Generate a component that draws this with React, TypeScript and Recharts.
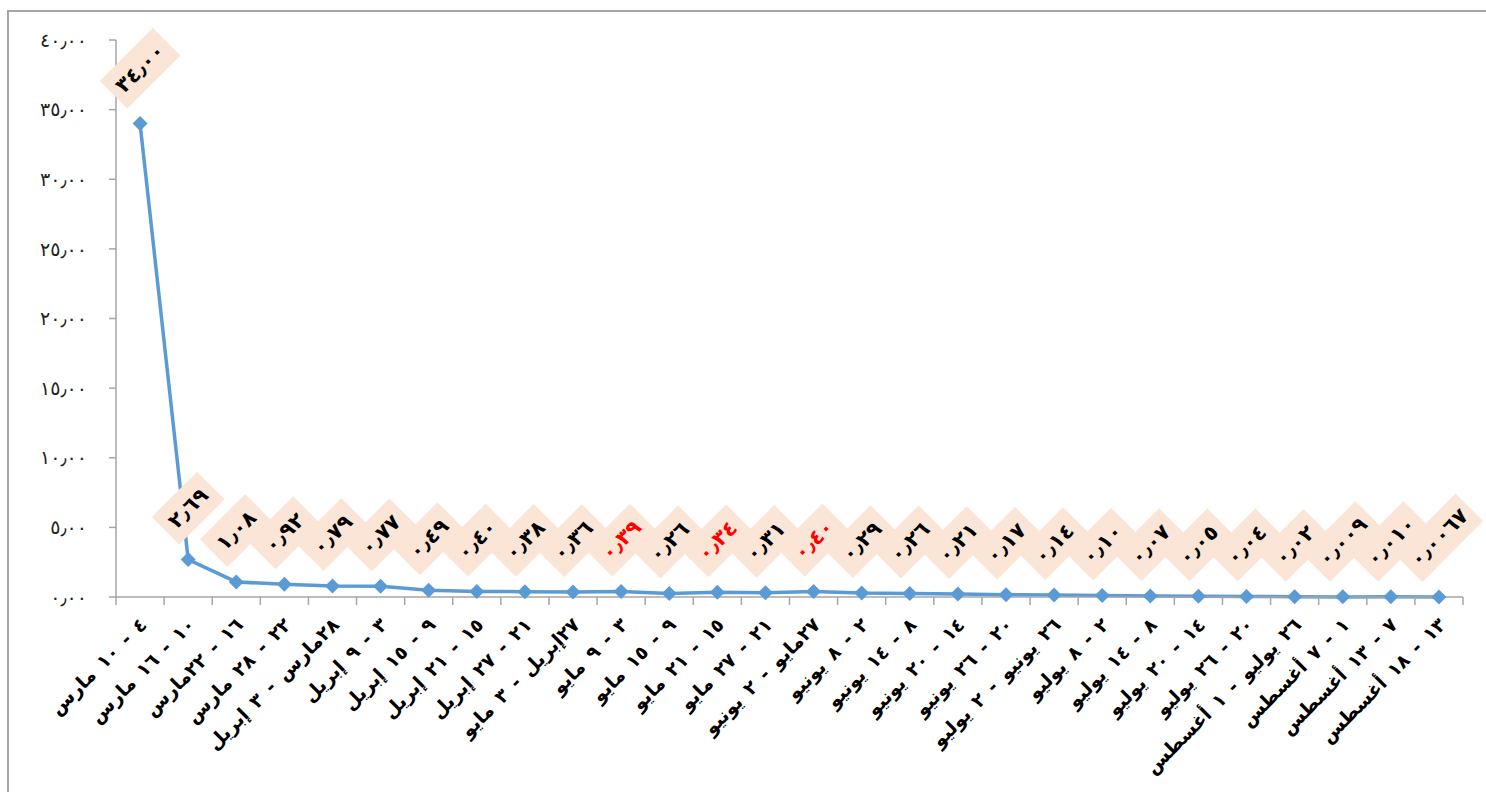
import { LineChart, Line, XAxis, YAxis, LabelList } from "recharts";

// weekly periods (Arabic labels as in the source sheet)
const weeks = [
  "٤ - ١٠ مارس",
  "١٠ - ١٦ مارس",
  "١٦ - ٢٢مارس",
  "٢٢ - ٢٨ مارس",
  "٢٨مارس - ٣ إبريل",
  "٣ - ٩ إبريل",
  "٩ - ١٥ إبريل",
  "١٥ - ٢١ إبريل",
  "٢١ - ٢٧ إبريل",
  "٢٧إبريل - ٣ مايو",
  "٣ - ٩ مايو",
  "٩ - ١٥ مايو",
  "١٥ - ٢١ مايو",
  "٢١ - ٢٧ مايو",
  "٢٧مايو - ٢ يونيو",
  "٢ - ٨ يونيو",
  "٨ - ١٤ يونيو",
  "١٤ - ٢٠ يونيو",
  "٢٠ - ٢٦ يونيو",
  "٢٦ يونيو - ٢ يوليو",
  "٢ - ٨ يوليو",
  "٨ - ١٤ يوليو",
  "١٤ - ٢٠ يوليو",
  "٢٠ - ٢٦ يوليو",
  "٢٦ يوليو - ١ أغسطس",
  "١ - ٧ أغسطس",
  "٧ - ١٣ أغسطس",
  "١٣ - ١٨ أغسطس",
];

const values = [
  34.0, 2.69, 1.08, 0.92, 0.79, 0.77, 0.49, 0.4, 0.38, 0.36, 0.39, 0.26, 0.34,
  0.31, 0.4, 0.29, 0.26, 0.21, 0.17, 0.14, 0.1, 0.07, 0.05, 0.04, 0.02, 0.009,
  0.01, 0.0067,
];

// decimals shown in each data label
const labelDecimals = [
  2, 2, 2, 2, 2, 2, 2, 2, 2, 2, 2, 2, 2, 2, 2, 2, 2, 2, 2, 2, 2, 2, 2, 2, 2, 3,
  3, 4,
];

// labels printed in red in the original
const redLabels = [10, 12, 14];

const yTicks = [0, 5, 10, 15, 20, 25, 30, 35, 40];

const LINE_COLOR = "#5B9BD5";
const AXIS_COLOR = "#A6A6A6";
const BOX_FILL = "#FBE5D6";
const FONT = "'DejaVu Sans', sans-serif";

const data = values.map((v, i) => ({ pos: i + 0.5, value: v, idx: i }));

// boundaries (integers) carry tick marks, centres (x.5) carry the labels
const xTicks = Array.from({ length: weeks.length * 2 + 1 }, (_, k) => k / 2);

function toArabic(s: string) {
  const digits = "٠١٢٣٤٥٦٧٨٩";
  return s.replace(/[0-9]/g, (d) => digits[Number(d)]).replace(".", "٫");
}

function labelText(i: number) {
  return toArabic(values[i].toFixed(labelDecimals[i]));
}

function boxGeom(i: number, x: number, y: number) {
  const n = labelText(i).length;
  const w = 20 + n * 11;
  const h = 39;
  const half = (w + h) / (2 * Math.SQRT2);
  return { w, h, cx: x, cy: y - 15 - half };
}

function renderBox(props: any) {
  const { x, y, index } = props;
  if (x == null || y == null) return null;
  const { w, h, cx, cy } = boxGeom(index, x, y);
  return (
    <g transform={`translate(${cx},${cy}) rotate(-45)`}>
      <rect x={-w / 2} y={-h / 2} width={w} height={h} fill={BOX_FILL} />
    </g>
  );
}

function renderValue(props: any) {
  const { x, y, index } = props;
  if (x == null || y == null) return null;
  const { cx, cy } = boxGeom(index, x, y);
  return (
    <g transform={`translate(${cx},${cy}) rotate(-45)`}>
      <text
        x={0}
        y={0}
        textAnchor="middle"
        dominantBaseline="central"
        fontFamily={FONT}
        fontWeight="bold"
        fontSize={21}
        letterSpacing={1.5}
        fill={redLabels.includes(index) ? "#FF0000" : "#000"}
      >
        {labelText(index)}
      </text>
    </g>
  );
}

function renderXTick(props: any) {
  const { x, y, payload } = props;
  const v = payload.value as number;
  if (Number.isInteger(v)) {
    return <line x1={x} y1={y} x2={x} y2={y + 8} stroke={AXIS_COLOR} strokeWidth={1.5} />;
  }
  const label = weeks[Math.floor(v)];
  return (
    <text
      transform={`translate(${x + 3},${y + 24}) rotate(-45)`}
      direction="rtl"
      textAnchor="start"
      dominantBaseline="central"
      fontFamily={FONT}
      fontWeight="bold"
      fontSize={19}
      wordSpacing={3}
      fill="#000"
    >
      {label}
    </text>
  );
}

function renderDot(props: any) {
  const { cx, cy, index } = props;
  if (cx == null || cy == null) return <g key={index} />;
  const r = 7.5;
  return (
    <polygon
      key={index}
      points={`${cx},${cy - r} ${cx + r},${cy} ${cx},${cy + r} ${cx - r},${cy}`}
      fill={LINE_COLOR}
    />
  );
}

export default function App() {
  return (
    <div
      style={{
        position: "absolute",
        left: 0,
        top: 0,
        width: 1486,
        height: 792,
        overflow: "hidden",
        background: "#fff",
      }}
    >
      <div
        style={{
          position: "absolute",
          left: 7,
          top: 10,
          width: 1500,
          height: 800,
          borderLeft: `2px solid ${AXIS_COLOR}`,
          borderTop: `2px solid ${AXIS_COLOR}`,
        }}
      />
      <div style={{ position: "absolute", left: 0, top: 0 }}>
        <LineChart
          width={1486}
          height={792}
          data={data}
          margin={{ top: 40, right: 23, bottom: 0, left: 0 }}
        >
          <XAxis
            type="number"
            dataKey="pos"
            domain={[0, weeks.length]}
            ticks={xTicks}
            interval={0}
            allowDecimals
            tickLine={false}
            tickSize={0}
            tickMargin={0}
            axisLine={{ stroke: AXIS_COLOR, strokeWidth: 1.5 }}
            tick={renderXTick}
            height={195}
          />
          <YAxis
            type="number"
            domain={[0, 40]}
            ticks={yTicks}
            interval={0}
            width={116}
            tickSize={7}
            tickMargin={22}
            tickLine={{ stroke: AXIS_COLOR, strokeWidth: 1.5 }}
            axisLine={{ stroke: AXIS_COLOR, strokeWidth: 1.5 }}
            tick={{ fill: "#222", fontSize: 19, fontFamily: FONT, letterSpacing: 1.5 }}
            tickFormatter={(v: number) => toArabic(v.toFixed(2))}
          />
          <Line
            type="linear"
            dataKey="value"
            stroke={LINE_COLOR}
            strokeWidth={3.5}
            dot={renderDot}
            activeDot={false}
            isAnimationActive={false}
          >
            <LabelList dataKey="value" content={renderBox} />
            <LabelList dataKey="value" content={renderValue} />
          </Line>
        </LineChart>
      </div>
    </div>
  );
}
